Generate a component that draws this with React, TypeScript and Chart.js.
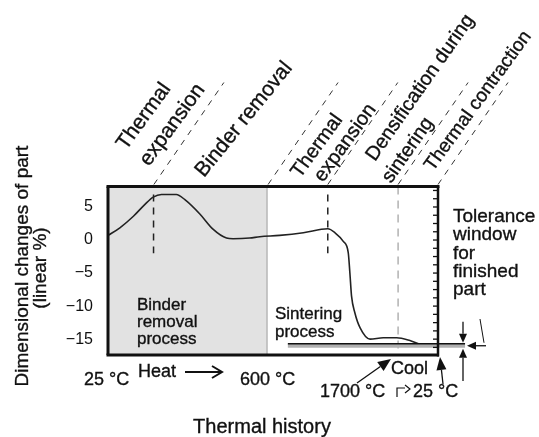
import { useEffect, useRef } from "react";
import { Chart, registerables } from "chart.js";

Chart.register(...registerables);

const FONT = '"Liberation Sans", Arial, Helvetica, sans-serif';
const INK = "#111";

// Position along the thermal history (0 = start of heating, 100 = back at room temperature)
const HISTORY_X = [
  0, 3.6, 7.7, 11.2, 13.7, 16.2, 20.7, 23.3, 27.9, 31.9, 35.9, 37.9, 42.9, 46, 52,
  59.2, 66.6, 68.8, 71.3, 72.8, 73.3, 73.8, 74.8, 76.4, 79.4, 83.4, 87.5, 91.5, 95, 100,
];
// Dimensional change of the part, linear %
const DIMENSION_CHANGE = [
  0.7, 1.85, 3.6, 5.4, 6.5, 6.9, 6.9, 6.1, 3.9, 1.6, 0.3, 0.2, 0.3, 0.5, 0.7,
  1.1, 1.7, 1.1, -0.2, -1.9, -5, -8.5, -11, -13.3, -15, -14.8, -14.8, -15.2, -15.8, -15.8,
];

const Y_TICKS = [5, 0, -5, -10, -15];
const Y_MIN = -17.4;
const Y_MAX = 8.1;
const RIGHT_TICKS = [
  7.5, 6.25, 5, 3.75, 2.5, 1.25, 0, -1.25, -2.5, -3.75, -5, -6.25, -7.5, -8.75,
  -10, -11.25, -12.5, -13.75, -15, -16.25,
];

// Binder removal stage (shaded), thermal-expansion markers, stage boundaries
const BINDER_STAGE = [0, 48.2];
const EXPANSION_MARKS = [13.8, 66.6];
const EXPANSION_MARK_RANGE = [6.9, -2.0];
const STAGE_BOUNDS = [13.9, 48.5, 66.6, 87.9, 100];
const COOL_START = 87.9;
// Tolerance window for the finished part (linear %)
const TOLERANCE = [-15.7, -16.3];
const TOLERANCE_SPAN = [54.5, 108.2];

const STAGE_LABELS: { lines: string[]; anchors: [number, number][]; size: number; angle: number }[] = [
  { lines: ["Thermal", "expansion"], anchors: [[126, 151], [149, 167]], size: 21, angle: 54 },
  { lines: ["Binder removal"], anchors: [[204, 178]], size: 21, angle: 51 },
  { lines: ["Thermal", "expansion"], anchors: [[300, 179], [323, 183]], size: 20, angle: 54 },
  { lines: ["Densification during", "sintering"], anchors: [[375, 162], [391, 184]], size: 19.8, angle: 55 },
  { lines: ["Thermal contraction"], anchors: [[433, 172]], size: 19, angle: 54 },
];

const fmt = (v: number) => (v < 0 ? "\u2212" + Math.abs(v) : String(v));

function seg(ctx: CanvasRenderingContext2D, x1: number, y1: number, x2: number, y2: number) {
  ctx.beginPath();
  ctx.moveTo(x1, y1);
  ctx.lineTo(x2, y2);
  ctx.stroke();
}

function arrow(
  ctx: CanvasRenderingContext2D,
  x1: number, y1: number, x2: number, y2: number,
  head = 9, width = 8,
) {
  const ang = Math.atan2(y2 - y1, x2 - x1);
  const bx = x2 - head * Math.cos(ang);
  const by = y2 - head * Math.sin(ang);
  seg(ctx, x1, y1, bx, by);
  ctx.beginPath();
  ctx.moveTo(x2, y2);
  ctx.lineTo(bx + (width / 2) * Math.sin(ang), by - (width / 2) * Math.cos(ang));
  ctx.lineTo(bx - (width / 2) * Math.sin(ang), by + (width / 2) * Math.cos(ang));
  ctx.closePath();
  ctx.fill();
}

function text(
  ctx: CanvasRenderingContext2D, s: string, x: number, y: number, size: number,
  align: CanvasTextAlign = "left", rot = 0,
) {
  ctx.save();
  ctx.font = `${size}px ${FONT}`;
  ctx.fillStyle = INK;
  ctx.strokeStyle = INK;
  ctx.lineWidth = 0.35;
  ctx.setLineDash([]);
  ctx.textAlign = align;
  ctx.textBaseline = "alphabetic";
  ctx.translate(x, y);
  if (rot) ctx.rotate(rot);
  ctx.fillText(s, 0, 0);
  ctx.strokeText(s, 0, 0);
  ctx.restore();
}

const decorations = {
  id: "decorations",
  beforeDatasetsDraw(chart: any) {
    const { ctx, chartArea: a, scales } = chart;
    const x = scales.x;
    const y = scales.y;
    ctx.save();
    // shaded binder-removal stage
    const g0 = x.getPixelForValue(BINDER_STAGE[0]);
    const g1 = x.getPixelForValue(BINDER_STAGE[1]);
    ctx.fillStyle = "#e2e2e2";
    ctx.fillRect(g0, a.top, g1 - g0, a.bottom - a.top);
    ctx.strokeStyle = "#9c9c9c";
    ctx.lineWidth = 1;
    seg(ctx, g1, a.top, g1, a.bottom);

    // start of cooling
    ctx.strokeStyle = "#8a8a8a";
    ctx.setLineDash([8, 6]);
    const cx = x.getPixelForValue(COOL_START);
    seg(ctx, cx, a.top, cx, a.bottom);

    // thermal expansion markers
    ctx.strokeStyle = "#222";
    ctx.lineWidth = 1.5;
    ctx.setLineDash([7, 6]);
    for (const m of EXPANSION_MARKS) {
      const mx = x.getPixelForValue(m);
      seg(ctx, mx, y.getPixelForValue(EXPANSION_MARK_RANGE[0]), mx, y.getPixelForValue(EXPANSION_MARK_RANGE[1]));
    }
    ctx.restore();
  },
  afterDatasetsDraw(chart: any) {
    const { ctx, chartArea: a, scales } = chart;
    const x = scales.x;
    const y = scales.y;
    ctx.save();
    ctx.strokeStyle = INK;
    ctx.fillStyle = INK;

    // tolerance window lines
    const t0 = y.getPixelForValue(TOLERANCE[0]);
    const t1 = y.getPixelForValue(TOLERANCE[1]);
    const tx0 = x.getPixelForValue(TOLERANCE_SPAN[0]);
    const tx1 = x.getPixelForValue(TOLERANCE_SPAN[1]);
    ctx.fillStyle = "#b0b0b0";
    ctx.fillRect(tx0, t0, tx1 - tx0, t1 - t0);
    ctx.fillStyle = INK;
    ctx.lineWidth = 1.5;
    seg(ctx, tx0, t0, tx1, t0);

    // plot frame
    ctx.lineWidth = 3;
    seg(ctx, a.left - 1.5, a.top, a.right + 1.5, a.top);
    seg(ctx, a.left, a.top, a.left, a.bottom);
    seg(ctx, a.left - 1.5, a.bottom, a.right + 1, a.bottom);
    ctx.lineWidth = 2.5;
    seg(ctx, a.right, a.top, a.right, a.bottom + 1.5);

    // inward minor ticks on the right edge
    ctx.lineWidth = 1.3;
    for (const v of RIGHT_TICKS) {
      const ty = y.getPixelForValue(v);
      seg(ctx, a.right - 5, ty, a.right, ty);
    }

    // diagonal stage boundaries above the plot
    ctx.lineWidth = 1;
    ctx.strokeStyle = "#333";
    ctx.setLineDash([6, 6]);
    for (const b of STAGE_BOUNDS) {
      const bx = x.getPixelForValue(b);
      seg(ctx, bx, a.top - 2, bx + 70, a.top - 104);
    }
    ctx.setLineDash([]);
    ctx.strokeStyle = INK;

    // stage labels
    for (const lab of STAGE_LABELS) {
      const rot = (-lab.angle * Math.PI) / 180;
      lab.lines.forEach((s, i) => text(ctx, s, lab.anchors[i][0], lab.anchors[i][1], lab.size, "left", rot));
    }

    // axis titles
    text(ctx, "Dimensional changes of part", 28, 266, 19, "center", -Math.PI / 2);
    text(ctx, "(linear %)", 46, 268, 19, "center", -Math.PI / 2);
    text(ctx, "Thermal history", 262, 433, 20, "center");

    // stage names inside the plot
    ["Binder", "removal", "process"].forEach((s, i) => text(ctx, s, 137, 310 + i * 17, 17));
    ["Sintering", "process"].forEach((s, i) => text(ctx, s, 275, 319 + i * 18, 17));

    // tolerance annotation
    ["Tolerance", "window", "for", "finished", "part"].forEach((s, i) =>
      text(ctx, s, 453, 222 + i * 18.3, 19),
    );
    ctx.lineWidth = 1.3;
    arrow(ctx, 463, t0 - 22, 463, t0 - 1, 9, 8);
    arrow(ctx, 463, 381, 463, t1 + 1, 9, 8);
    arrow(ctx, 486, (t0 + t1) / 2, 467, (t0 + t1) / 2, 9, 8);
    ctx.lineWidth = 1;
    seg(ctx, 480, 319, 484, t0 - 1);

    // temperature annotations along the bottom
    text(ctx, "25 \u00b0C", 84, 385, 18);
    text(ctx, "Heat", 138, 377, 18);
    ctx.lineWidth = 2;
    seg(ctx, 185, 372, 221, 372);
    ctx.beginPath();
    ctx.moveTo(212, 366);
    ctx.lineTo(222, 372);
    ctx.lineTo(212, 378);
    ctx.stroke();
    text(ctx, "600 \u00b0C", 240, 385, 18);
    text(ctx, "Cool", 391, 374, 18);
    text(ctx, "1700 \u00b0C", 320, 397, 18);
    text(ctx, "25 \u00b0C", 413, 397, 18);
    ctx.lineWidth = 1.3;
    arrow(ctx, 357, 383, 391, 359, 13, 11);
    arrow(ctx, 443, 384, 440, 357, 13, 10);
    // small cooling turn mark before the final 25 °C
    ctx.lineWidth = 1.2;
    ctx.beginPath();
    ctx.moveTo(397, 397);
    ctx.lineTo(397, 388);
    ctx.lineTo(405, 388);
    ctx.stroke();
    ctx.beginPath();
    ctx.moveTo(405, 385);
    ctx.lineTo(410, 389);
    ctx.lineTo(405, 393);
    ctx.stroke();

    ctx.restore();
  },
};

export default function App() {
  const ref = useRef<HTMLCanvasElement | null>(null);

  useEffect(() => {
    if (!ref.current) return;
    const chart = new Chart(ref.current, {
      type: "line",
      data: {
        datasets: [
          {
            data: HISTORY_X.map((v, i) => ({ x: v, y: DIMENSION_CHANGE[i] })),
            borderColor: "#222",
            borderWidth: 1.6,
            pointRadius: 0,
            cubicInterpolationMode: "monotone",
            fill: false,
          },
        ],
      },
      options: {
        animation: false,
        responsive: false,
        maintainAspectRatio: false,
        layout: { padding: { top: 186.5, bottom: 82, right: 101, left: 0 } },
        plugins: { legend: { display: false }, tooltip: { enabled: false } },
        scales: {
          x: { type: "linear", min: 0, max: 100, display: false },
          y: {
            min: Y_MIN,
            max: Y_MAX,
            grid: { display: false, drawTicks: false },
            border: { display: false },
            afterBuildTicks: (s: any) => {
              s.ticks = Y_TICKS.map((v) => ({ value: v }));
            },
            afterFit: (s: any) => {
              s.width = 108;
            },
            ticks: {
              padding: 15,
              color: INK,
              font: { family: FONT, size: 16 },
              callback: (v: any) => fmt(Number(v)),
            },
          },
        },
      },
      plugins: [decorations],
    } as any);
    return () => chart.destroy();
  }, []);

  return (
    <div style={{ position: "absolute", left: 0, top: 0, width: 539, height: 437, background: "#fff" }}>
      <canvas ref={ref} width={539} height={437} style={{ width: 539, height: 437, display: "block" }} />
    </div>
  );
}
